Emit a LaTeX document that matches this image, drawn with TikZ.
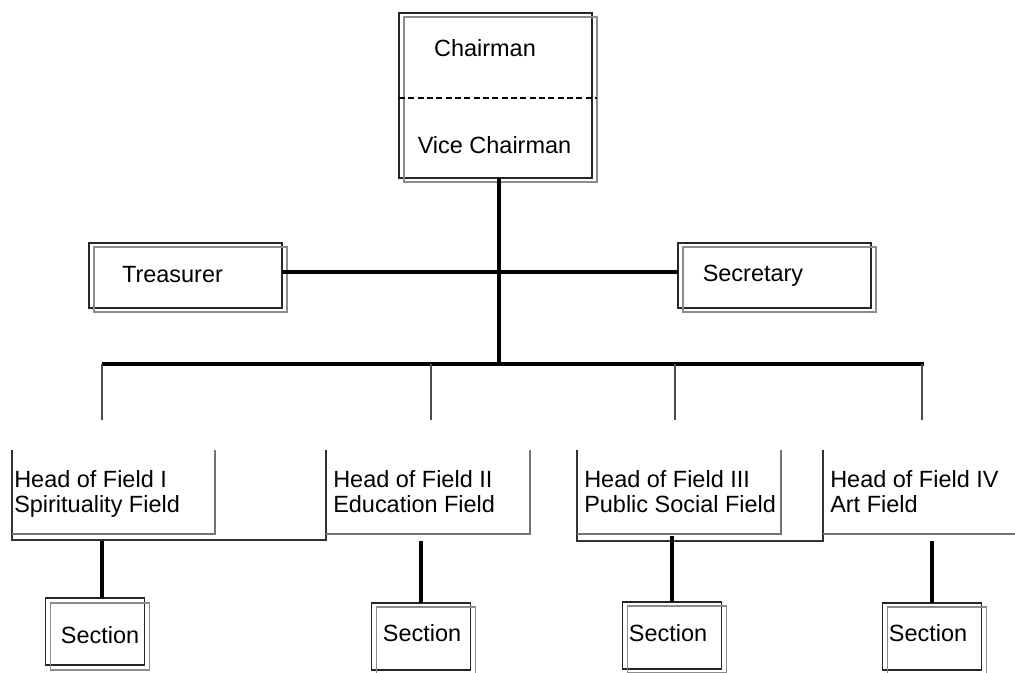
\documentclass[tikz,border=0pt]{standalone}
\usepackage{fontspec}
\setmainfont{Liberation Sans}
\begin{document}
\begin{tikzpicture}[x=0.75pt,y=-0.75pt,
  box/.style={draw=black!85, line width=1pt, inner sep=0pt, outer sep=0pt},
  ghost/.style={draw=black!45, line width=0.8pt},
  dline/.style={draw=black!80, line width=1pt},
  gline/.style={draw=black!55, line width=1pt},
  txt/.style={font=\fontsize{17.6}{18.75}\selectfont, inner sep=0pt, align=left},
  conn/.style={line width=2.5pt},
  drop/.style={line width=1pt, draw=black!70}]
\useasboundingbox (0,0) rectangle (1015,673);

% Chairman box
\node[box, minimum width=144.75pt, minimum height=123.75pt] (chair) at (495.5,95.5) {};
\draw[ghost] ([shift={(5,4)}]chair.north west) rectangle ([shift={(5,4)}]chair.south east);
\draw[dashed, dash pattern=on 4.5pt off 2.5pt, line width=0.9pt] (chair.west |- 0,98) -- (597,98);
\node[txt] (chairman) at (485,48) {Chairman};
\node[txt] (vice) at (494.5,145) {Vice Chairman};

% Treasurer and Secretary
\node[box, minimum width=144.75pt, minimum height=48.75pt] (treas) at (185.5,275.5) {};
\draw[ghost] ([shift={(5,4)}]treas.north west) rectangle ([shift={(5,4)}]treas.south east);
\node[txt] (treastxt) at (172.5,275) {Treasurer};
\node[box, minimum width=144.75pt, minimum height=48.75pt] (sec) at (774.5,275.5) {};
\draw[ghost] ([shift={(5,4)}]sec.north west) rectangle ([shift={(5,4)}]sec.south east);
\node[txt] (sectxt) at (753,276) {Secretary};

% junctions
\coordinate (j1) at (499,272);
\coordinate (j2) at (499,364);
\coordinate (bl) at (102,364);
\coordinate (br) at (924,364);
\coordinate (d1) at (102,420);
\coordinate (d2) at (431,420);
\coordinate (d3) at (675,420);
\coordinate (d4) at (922,420);

\draw[conn] (chair.south -| j2) -- (j2);
\draw[conn] (treas.east |- j1) -- (sec.west |- j1);
\draw[conn] (bl) -- (br);
\draw[drop] (d1 |- bl) -- (d1);
\draw[drop] (d2 |- bl) -- (d2);
\draw[drop] (d3 |- bl) -- (d3);
\draw[drop] (d4 |- bl) -- (d4);

% Field boxes (open top)
\draw[dline] (12,450) -- (12,540) -- (326,540) -- (326,450);
\draw[gline] (12,534) -- (215,534) -- (215,450);
\draw[gline] (326,534) -- (530,534) -- (530,450);
\draw[dline] (577,450) -- (577,541) -- (823,541) -- (823,450);
\draw[gline] (577,534) -- (781,534) -- (781,450);
\draw[gline] (823,534) -- (1015,534);

\node[txt, anchor=north west] (f1) at (14,470.5) {Head of Field I\\Spirituality Field};
\node[txt, anchor=north west] (f2) at (333,470.5) {Head of Field II\\Education Field};
\node[txt, anchor=north west] (f3) at (584,470.5) {Head of Field III\\Public Social Field};
\node[txt, anchor=north west] (f4) at (830,470.5) {Head of Field IV\\Art Field};

% Sections
\node[box, minimum width=74.25pt, minimum height=50.25pt] (s1) at (95,631.5) {};
\draw[ghost] ([shift={(5,5)}]s1.north west) rectangle ([shift={(5,5)}]s1.south east);
\node[txt] (s1t) at (100,635) {Section};
\node[box, minimum width=74.25pt, minimum height=50.25pt] (s2) at (421,636.5) {};
\draw[ghost] ([shift={(5,4)}]s2.north west) rectangle ([shift={(5,4)}]s2.south east);
\node[txt] (s2t) at (422,633) {Section};
\node[box, minimum width=74.25pt, minimum height=50.25pt] (s3) at (672,635.5) {};
\draw[ghost] ([shift={(5,4)}]s3.north west) rectangle ([shift={(5,4)}]s3.south east);
\node[txt] (s3t) at (668,633) {Section};
\node[box, minimum width=74.25pt, minimum height=50.25pt] (s4) at (932,636.5) {};
\draw[ghost] ([shift={(5,4)}]s4.north west) rectangle ([shift={(5,4)}]s4.south east);
\node[txt] (s4t) at (928,633) {Section};

\coordinate (t1) at (102,541);
\coordinate (t2) at (421,541);
\coordinate (t3) at (672,536);
\coordinate (t4) at (932,541);
\draw[conn] (t1) -- (t1 |- s1.north);
\draw[conn] (t2) -- (t2 |- s2.north);
\draw[conn] (t3) -- (t3 |- s3.north);
\draw[conn] (t4) -- (t4 |- s4.north);
\end{tikzpicture}
\end{document}
